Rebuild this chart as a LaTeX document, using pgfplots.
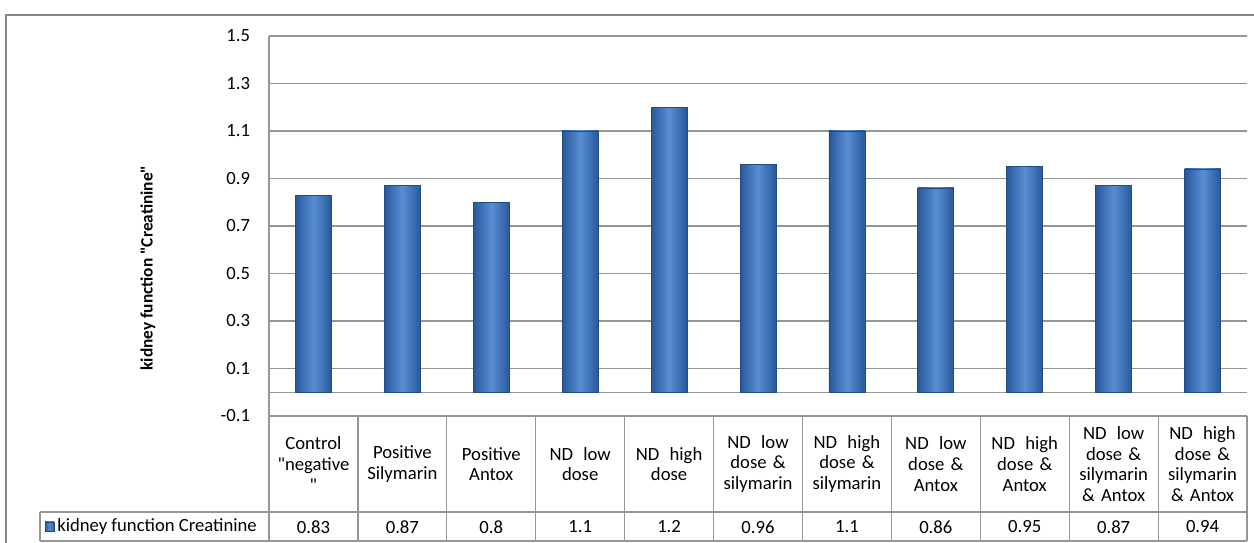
\documentclass[border=0pt]{standalone}
\usepackage{pgfplots}
\usepackage{pgfplotstable}
\pgfplotsset{compat=1.18}
\usepackage{fontspec}
\setmainfont{Carlito}[Ligatures=TeXOff]
\definecolor{bardark}{RGB}{40,88,155}
\definecolor{barlight}{RGB}{88,142,212}
\definecolor{baredge}{RGB}{36,74,130}
\definecolor{gridc}{RGB}{150,150,150}
\definecolor{framec}{RGB}{134,134,134}
\definecolor{tablec}{RGB}{150,150,150}
\newcommand{\cellfont}{\fontsize{14}{15.5}\selectfont}
\newcommand{\qq}{\symbol{34}}
\newcommand{\Y}[1]{(543-#1)*0.75pt}
\newcommand{\X}[1]{#1*0.75pt}
\pgfplotstableread{
x y
0 0.83
1 0.87
2 0.8
3 1.1
4 1.2
5 0.96
6 1.1
7 0.86
8 0.95
9 0.87
10 0.94
}\creatinine
\begin{document}
\begin{tikzpicture}
\useasboundingbox (0,0) rectangle (940.5pt,407.25pt);
\draw[framec, line width=1.5pt] ({\X{6}},-10pt) -- ({\X{6}},{\Y{15}}) -- (950pt,{\Y{15}});
\begin{axis}[
 at={(201.75pt,95.25pt)}, anchor=south west,
 scale only axis, width=733.5pt, height=285pt,
 xmin=-0.5, xmax=10.5, ymin=-0.1, ymax=1.5,
 ytick={-0.1,0.1,0.3,0.5,0.7,0.9,1.1,1.3,1.5},
 yticklabels={-0.1,0.1,0.3,0.5,0.7,0.9,1.1,1.3,1.5},
 ymajorgrids, grid style={gridc, line width=0.9pt},
 extra y ticks={0}, extra y tick labels={},
 axis line style={draw=none},
 major tick style={draw=none},
 yticklabel style={anchor=east, inner sep=0pt, xshift=-14pt, font=\cellfont},
 xtick={0,1,2,3,4,5,6,7,8,9,10},
 xticklabels={{Control\\\qq negative\\\qq},{Positive\\Silymarin},{Positive\\Antox},{ND\hspace{0.55em}low\\dose},{ND\hspace{0.55em}high\\dose},{ND\hspace{0.55em}low\\dose \&\\silymarin},{ND\hspace{0.55em}high\\dose \&\\silymarin},{ND\hspace{0.55em}low\\dose \&\\Antox},{ND\hspace{0.55em}high\\dose \&\\Antox},{ND\hspace{0.55em}low\\dose \&\\silymarin\\\& Antox},{ND\hspace{0.55em}high\\dose \&\\silymarin\\\& Antox}},
 xticklabel style={anchor=center, inner sep=0pt, yshift=-36pt, text width=64pt, align=center, font=\cellfont},
 extra x ticks={0,1,2,3,4,5,6,7,8,9,10},
 extra x tick labels={0.83,0.87,0.8,1.1,1.2,0.96,1.1,0.86,0.95,0.87,0.94},
 extra x tick style={xticklabel style={yshift=-47.25pt}},
 clip=false,
]
\pgfplotsinvokeforeach{0,...,10}{
\addplot[ybar, bar width=27pt, draw=baredge, line width=0.6pt, left color=bardark, right color=bardark, middle color=barlight,
  x filter/.expression={abs(x-#1)<0.1 ? x : nan}]
 table[x=x, y=y] {\creatinine};
}
\end{axis}
% data table lines
\begin{scope}[tablec, line width=0.9pt]
\draw ({\X{269}},{\Y{36}}) -- ({\X{269}},{\Y{541}});
\draw ({\X{269}},{\Y{416}}) -- ({\X{1247}},{\Y{416}});
\draw ({\X{40}},{\Y{512}}) -- ({\X{1247}},{\Y{512}});
\draw ({\X{40}},{\Y{541}}) -- ({\X{1247}},{\Y{541}});
\draw ({\X{40}},{\Y{512}}) -- ({\X{40}},{\Y{541}});
\foreach \k in {1,...,11} {
  \draw ({(269+\k*88.909)*0.75pt},{\Y{416}}) -- ({(269+\k*88.909)*0.75pt},{\Y{541}});
}
\end{scope}
\shade[left color=bardark, right color=bardark, middle color=barlight, draw=baredge] ({\X{45}},{\Y{522}}) rectangle ({\X{54}},{\Y{531}});
\node[anchor=west, inner sep=0pt, font=\cellfont] at ({\X{57}},{\Y{527}}) {kidney function Creatinine};
\node[rotate=90, font=\fontsize{13}{15}\selectfont\bfseries] at ({\X{148}},{\Y{268}}) {kidney function \qq Creatinine\qq};
\end{tikzpicture}
\end{document}
